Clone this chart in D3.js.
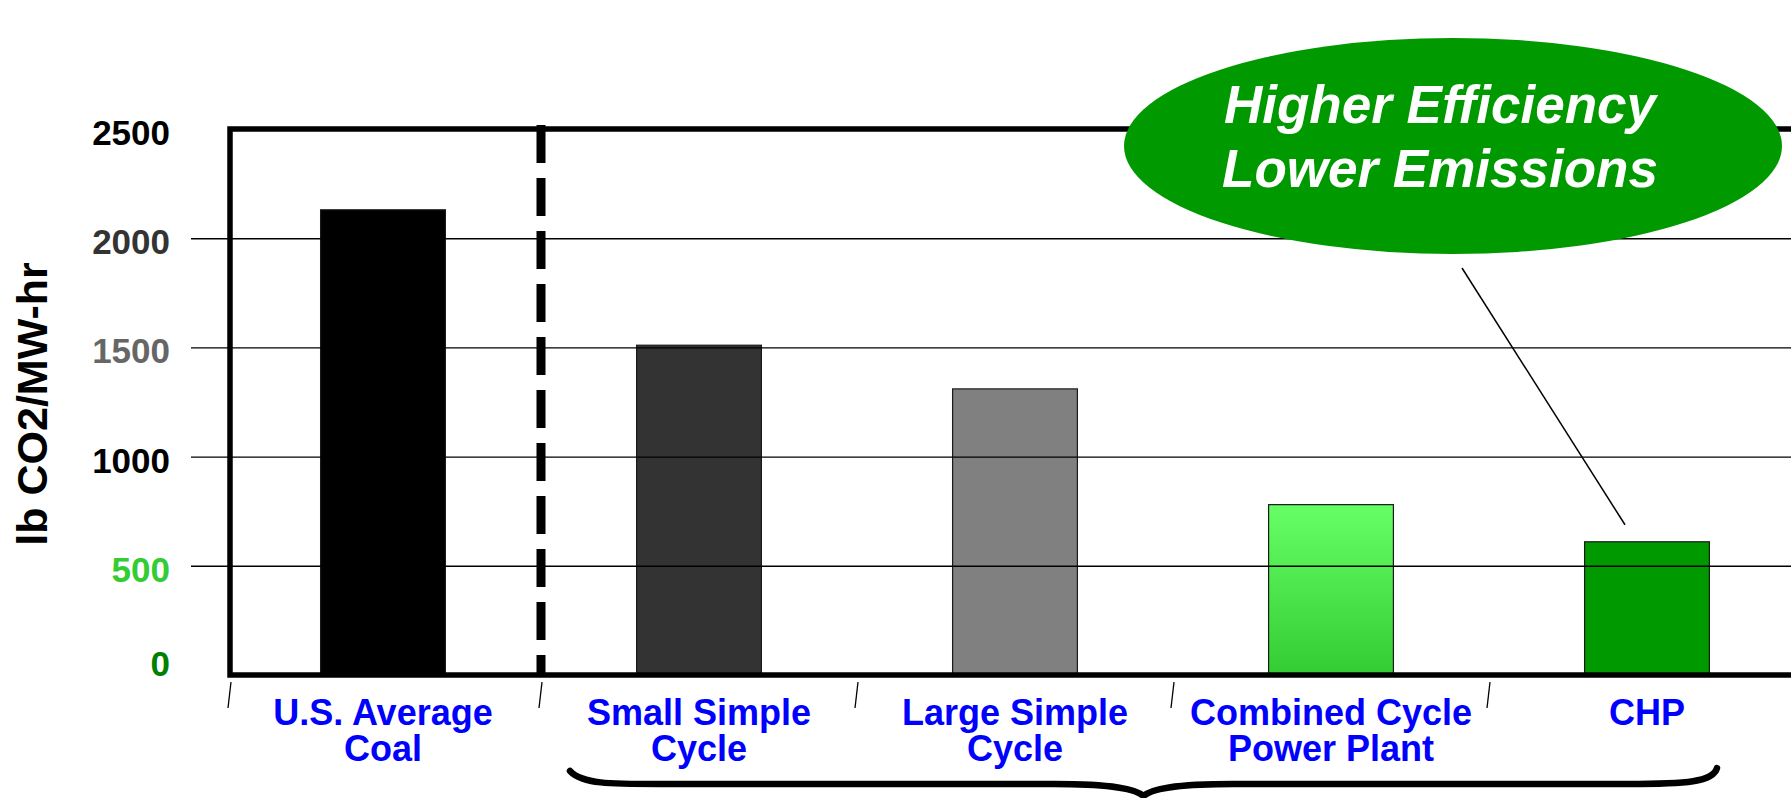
<!DOCTYPE html>
<html>
<head>
<meta charset="utf-8">
<script src="https://cdn.jsdelivr.net/npm/d3@7/dist/d3.min.js"></script>
<style>
  html, body { margin: 0; padding: 0; background: #fff; }
  svg { display: block; font-family: "Liberation Sans", Arial, Helvetica, sans-serif; }
</style>
</head>
<body>
<svg id="chart" width="1791" height="798"></svg>
<script>
// Emission rates by generation type (lb CO2 per MW-hr)
const categories = ["U.S. Average Coal", "Small Simple Cycle", "Large Simple Cycle", "Combined Cycle Power Plant", "CHP"];
const labelLines = [["U.S. Average", "Coal"], ["Small Simple", "Cycle"], ["Large Simple", "Cycle"], ["Combined Cycle", "Power Plant"], ["CHP"]];
const emissions = [2130, 1510, 1310, 780, 610];
const barColors = ["#000000", "#333333", "#808080", "url(#ccGrad)", "#009900"];
const yTicks = [0, 500, 1000, 1500, 2000, 2500];
const yTickColors = ["#008000", "#33cc33", "#000000", "#666666", "#333333", "#000000"];
const yTitle = "lb CO2/MW-hr";
const calloutLines = ["Higher Efficiency", "Lower Emissions"];

const W = 1791, H = 798;
const svg = d3.select("#chart");

const defs = svg.append("defs");
const grad = defs.append("linearGradient").attr("id", "ccGrad")
  .attr("x1", 0).attr("y1", 0).attr("x2", 0).attr("y2", 1);
grad.append("stop").attr("offset", "0%").attr("stop-color", "#66ff66");
grad.append("stop").attr("offset", "100%").attr("stop-color", "#33cc33");

const plotLeft = 230;
const y = d3.scaleLinear().domain([0, 2500]).range([675, 129]);
const x = d3.scaleBand().domain(categories).range([225, 1805]);
const barW = x.bandwidth() * 0.395;

// bars
svg.append("g").selectAll("rect")
  .data(categories)
  .join("rect")
  .attr("x", d => x(d) + (x.bandwidth() - barW) / 2)
  .attr("y", (d, i) => y(emissions[i]))
  .attr("width", barW)
  .attr("height", (d, i) => y(0) - y(emissions[i]))
  .attr("fill", (d, i) => barColors[i])
  .attr("stroke", "#1a1a1a")
  .attr("stroke-width", 1.2);

// value axis with gridlines drawn across the bars
const axisX = 191;
const yAxis = svg.append("g")
  .attr("transform", `translate(${axisX},0)`)
  .call(d3.axisLeft(y).tickValues(yTicks).tickSize(-(W - axisX)).tickPadding(21).tickFormat(d3.format("d")));
yAxis.select(".domain").remove();
yAxis.selectAll(".tick line")
  .attr("stroke", "#000")
  .attr("stroke-width", 1.4)
  .attr("x1", 0)
  .attr("display", d => (d === 0 || d === 2500) ? "none" : null);
yAxis.selectAll(".tick text")
  .attr("font-size", 35)
  .attr("font-weight", "bold")
  .attr("font-family", "'Liberation Sans', Arial, sans-serif")
  .attr("fill", d => yTickColors[yTicks.indexOf(d)])
  .attr("dy", d => d === 0 ? "-0.0em" : "0.44em");

// axis title
svg.append("text")
  .attr("transform", "translate(47,404) rotate(-90)")
  .attr("text-anchor", "middle")
  .attr("font-size", 43)
  .attr("font-weight", "bold")
  .attr("fill", "#000")
  .text(yTitle);

// plot frame
svg.append("rect")
  .attr("x", plotLeft).attr("y", y(2500))
  .attr("width", W + 40 - plotLeft).attr("height", y(0) - y(2500))
  .attr("fill", "none").attr("stroke", "#000").attr("stroke-width", 5.5);

// dashed divider between coal and gas-fired technologies
const divX = x(categories[1]);
svg.append("line")
  .attr("x1", divX).attr("x2", divX)
  .attr("y1", y(2500) - 4).attr("y2", y(0))
  .attr("stroke", "#000").attr("stroke-width", 9)
  .attr("stroke-dasharray", "38 15");

// category separators below the axis
const bounds = categories.map(c => x(c));
bounds[0] = plotLeft;
svg.append("g").selectAll("line")
  .data(bounds)
  .join("line")
  .attr("x1", d => d + 1).attr("x2", d => d - 2)
  .attr("y1", 682).attr("y2", 708)
  .attr("stroke", "#000").attr("stroke-width", 1.3);

// category labels, one text element per line
const labRows = [];
categories.forEach((c, i) => labelLines[i].forEach((ln, j) => labRows.push({ c, ln, j })));
svg.append("g").selectAll("text")
  .data(labRows)
  .join("text")
  .attr("text-anchor", "middle")
  .attr("font-size", 36)
  .attr("font-weight", "bold")
  .attr("fill", "#0000ff")
  .attr("x", d => x(d.c) + x.bandwidth() / 2)
  .attr("y", d => 725 + d.j * 36)
  .text(d => d.ln);

// brace grouping the gas-fired technologies
const bL = 570, bR = 1717, bM = (bL + bR) / 2, bY = 784;
svg.append("path")
  .attr("d", `M${bL},771 C${bL + 12},784 ${bL + 40},${bY} ${bL + 90},${bY} L${bM - 90},${bY} C${bM - 30},${bY} ${bM - 8},${bY + 5} ${bM},${bY + 12} C${bM + 8},${bY + 5} ${bM + 30},${bY} ${bM + 90},${bY} L${bR - 90},${bY} C${bR - 30},${bY} ${bR - 4},${bY - 2} ${bR},768`)
  .attr("fill", "none").attr("stroke", "#000").attr("stroke-width", 6.5)
  .attr("stroke-linecap", "round").attr("stroke-linejoin", "round");

// callout pointer to the CHP bar
const chpX = x("CHP") + x.bandwidth() / 2;
svg.append("line")
  .attr("x1", 1462).attr("y1", 268)
  .attr("x2", chpX - 22).attr("y2", y(emissions[4]) - 17)
  .attr("stroke", "#000").attr("stroke-width", 1.5);

// callout bubble
svg.append("ellipse")
  .attr("cx", 1453).attr("cy", 146).attr("rx", 329).attr("ry", 108)
  .attr("fill", "#009900");
svg.append("text")
  .attr("text-anchor", "middle")
  .attr("font-size", 53)
  .attr("font-weight", "bold")
  .attr("font-style", "italic")
  .attr("fill", "#fff")
  .selectAll("tspan")
  .data(calloutLines)
  .join("tspan")
  .attr("x", 1440)
  .attr("y", (d, i) => 123 + i * 64)
  .text(d => d);
</script>
</body>
</html>
